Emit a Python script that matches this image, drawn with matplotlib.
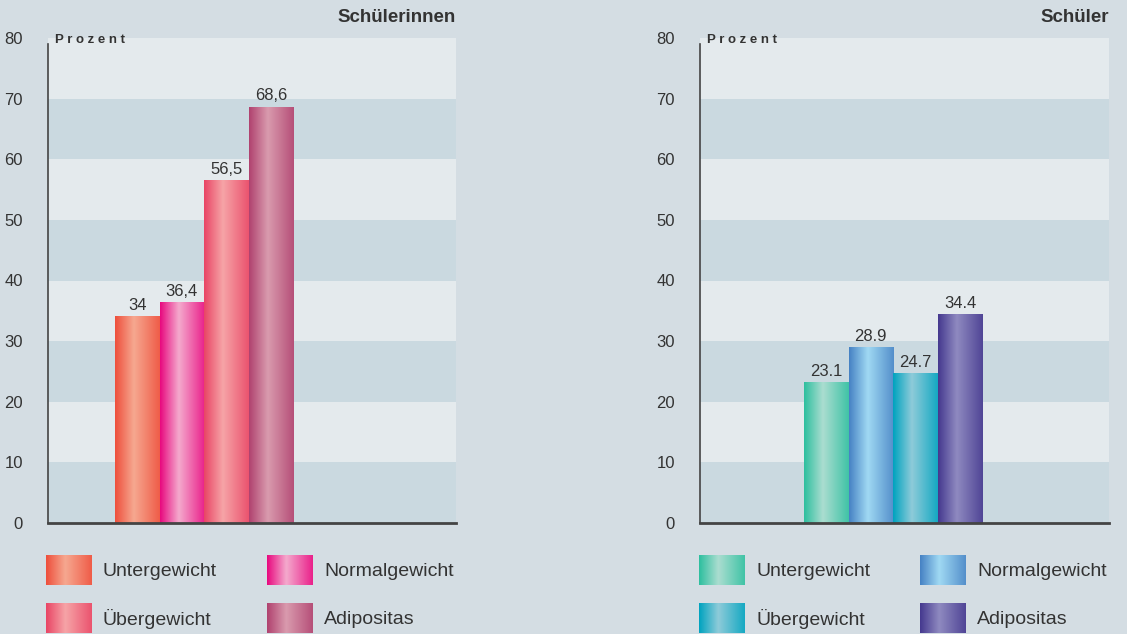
import numpy as np
import matplotlib.pyplot as plt
from matplotlib.colors import to_rgb

plt.rcParams['font.family'] = ['Liberation Sans Narrow', 'Liberation Sans', 'DejaVu Sans']

# Daten
kategorien = ['Untergewicht', 'Normalgewicht', 'Übergewicht', 'Adipositas']
werte_maedchen = [34, 36.4, 56.5, 68.6]
labels_maedchen = ['34', '36,4', '56,5', '68,6']
werte_jungen = [23.1, 28.9, 24.7, 34.4]
labels_jungen = ['23.1', '28.9', '24.7', '34.4']
yticks = [0, 10, 20, 30, 40, 50, 60, 70, 80]

# Farben (Rand, Mitte) fuer den Verlauf
farben_maedchen = [('#ee4f3c', '#f6a890'), ('#e8097f', '#f4aacd'),
                   ('#e94565', '#f6a4a7'), ('#b0426f', '#d99bae')]
farben_jungen = [('#2dbf9f', '#abddd0'), ('#4682c4', '#a0d9f3'),
                 ('#00a3bf', '#8ecbd9'), ('#45398f', '#8f8ac0')]

BG = '#d4dde3'
TXT = '#333333'
W, H = 1127, 634


def verlauf(rand, mitte):
    r = np.array(to_rgb(rand))
    m = np.array(to_rgb(mitte))
    t = np.linspace(0, 1, 100)
    f = np.interp(t, [0, 0.42, 1], [0, 1, 0.15])
    return (r[None, :] + (m - r)[None, :] * f[:, None])[None, :, :]


fig = plt.figure(figsize=(W / 100, H / 100), dpi=100)
fig.patch.set_facecolor(BG)


def panel(x0px, breite_px, offset, werte, labels, farben, titel):
    ax = fig.add_axes([x0px / W, (H - 523) / H, breite_px / W, 485 / H])
    ax.set_facecolor(BG)
    xmax = breite_px / 44.6
    # Streifen
    for i in range(8):
        c = '#cad9e0' if i % 2 == 0 else '#e4eaed'
        ax.axhspan(i * 10, i * 10 + 10, color=c, zorder=0, lw=0)
    pos = [offset + i + 0.5 for i in range(len(werte))]
    bars = ax.bar(pos, werte, width=1.0, color='none', zorder=1)
    for b, (rand, mitte), lab in zip(bars, farben, labels):
        ax.imshow(verlauf(rand, mitte), extent=(b.get_x(), b.get_x() + b.get_width(), 0, b.get_height()),
                  aspect='auto', zorder=2, interpolation='bilinear')
        ax.text(b.get_x() + b.get_width() / 2, b.get_height() + 0.6, lab,
                ha='center', va='bottom', fontsize=12, color=TXT, zorder=3)
    ax.set_xlim(0, xmax)
    ax.set_ylim(0, 80)
    ax.set_xticks([])
    ax.set_yticks(yticks)
    ax.tick_params(axis='y', length=0, pad=18, labelsize=12, labelcolor=TXT)
    for s in ['top', 'right']:
        ax.spines[s].set_visible(False)
    ax.spines['left'].set_bounds(0, 79)
    ax.spines['left'].set_color('#444444')
    ax.spines['left'].set_linewidth(1.2)
    ax.spines['bottom'].set_color('#444444')
    ax.spines['bottom'].set_linewidth(2)
    ax.spines['bottom'].set_zorder(4)
    ax.text(0.017, 0.995, 'P r o z e n t', transform=ax.transAxes, fontsize=9.5,
            fontweight='bold', color=TXT, va='center', ha='left')
    fig.text((x0px + breite_px) / W, 1 - 18 / H, titel, ha='right', va='center',
             fontsize=13.5, fontweight='bold', color=TXT)
    return ax


panel(48, 408, 1.5, werte_maedchen, labels_maedchen, farben_maedchen, 'Schülerinnen')
panel(700, 409, 2.33, werte_jungen, labels_jungen, farben_jungen, 'Schüler')

# Legenden
lax = fig.add_axes([0, 0, 1, 1])
lax.set_xlim(0, W)
lax.set_ylim(H, 0)
lax.axis('off')
for x0, farben in [(46, farben_maedchen), (699, farben_jungen)]:
    for i, (name, (rand, mitte)) in enumerate(zip(kategorien, farben)):
        px = x0 + (i % 2) * 221
        py = 555 + (i // 2) * 48
        lax.imshow(verlauf(rand, mitte), extent=(px, px + 46, py + 30, py), aspect='auto',
                   interpolation='bilinear')
        lax.text(px + 57, py + 16, name, ha='left', va='center', fontsize=14, color=TXT)
lax.set_xlim(0, W)
lax.set_ylim(H, 0)

plt.savefig('out.png', facecolor=BG)
